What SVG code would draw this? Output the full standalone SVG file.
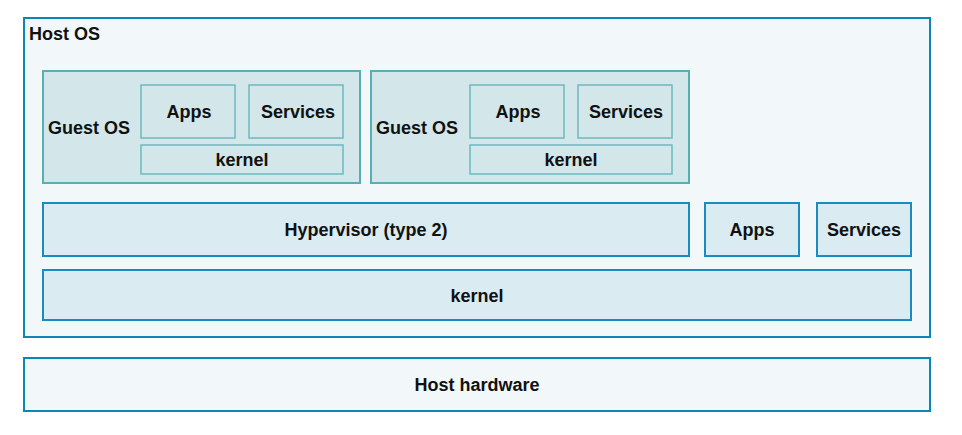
<svg xmlns="http://www.w3.org/2000/svg" width="962" height="435" viewBox="0 0 962 435">
<style>
text{font-family:"Liberation Sans",Arial,sans-serif;font-weight:bold;font-size:18px;fill:#111;}
.c{text-anchor:middle;dominant-baseline:central;}
.host{fill:#F2F7FA;stroke:#0C86B4;stroke-width:2;}
.blue{fill:#DAEBF2;stroke:#1A8BC0;stroke-width:2;}
.guest{fill:#D3E7EA;stroke:#5AAEB3;stroke-width:2;}
.inner{fill:#D3E7EA;stroke:#6CBBBF;stroke-width:1.5;}
</style>
<rect width="962" height="435" fill="#fff"/>
<g id="host-os">
<rect class="host" x="24" y="18" width="906" height="319"/>
<text x="29" y="40">Host OS</text>
</g>
<g id="guest-os-1">
<rect class="guest" x="43" y="71" width="317" height="112"/>
<text x="48" y="134">Guest OS</text>
</g>
<g id="apps-1"><rect class="inner" x="141" y="85" width="94" height="53"/><text class="c" x="189" y="112">Apps</text></g>
<g id="services-1"><rect class="inner" x="249" y="85" width="94" height="53"/><text class="c" x="298" y="112">Services</text></g>
<g id="kernel-1"><rect class="inner" x="141" y="145" width="202" height="29"/><text class="c" x="242" y="160">kernel</text></g>
<g id="guest-os-2">
<rect class="guest" x="371" y="71" width="318" height="112"/>
<text x="376" y="134">Guest OS</text>
</g>
<g id="apps-2"><rect class="inner" x="470" y="85" width="94" height="53"/><text class="c" x="518" y="112">Apps</text></g>
<g id="services-2"><rect class="inner" x="578" y="85" width="94" height="53"/><text class="c" x="626" y="112">Services</text></g>
<g id="kernel-2"><rect class="inner" x="470" y="145" width="202" height="29"/><text class="c" x="571" y="160">kernel</text></g>
<g id="hypervisor"><rect class="blue" x="43" y="203" width="646" height="53"/><text class="c" x="366" y="230">Hypervisor (type 2)</text></g>
<g id="host-apps"><rect class="blue" x="705" y="203" width="94" height="53"/><text class="c" x="752" y="230">Apps</text></g>
<g id="host-services"><rect class="blue" x="817" y="203" width="94" height="53"/><text class="c" x="864" y="230">Services</text></g>
<g id="host-kernel"><rect class="blue" x="43" y="270" width="868" height="50"/><text class="c" x="477" y="296">kernel</text></g>
<g id="host-hardware"><rect class="host" x="24" y="358" width="906" height="53"/><text class="c" x="477" y="385">Host hardware</text></g>
<g id="connectors"></g>
</svg>
